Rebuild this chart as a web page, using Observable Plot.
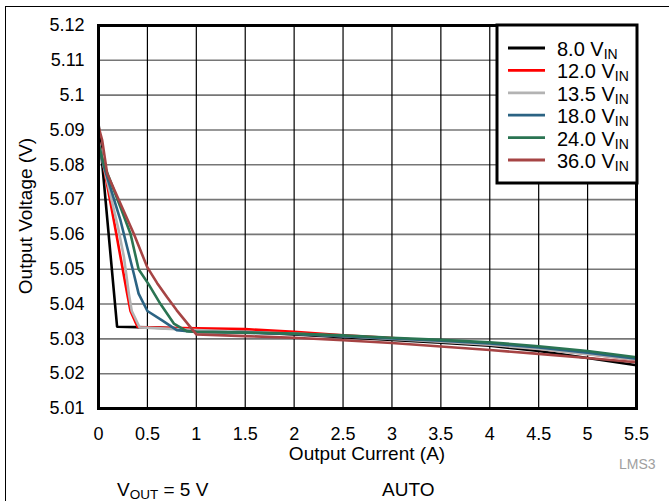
<!DOCTYPE html>
<html><head><meta charset="utf-8">
<script src="https://cdn.jsdelivr.net/npm/d3@7"></script>
<script src="https://cdn.jsdelivr.net/npm/@observablehq/plot@0.6"></script>
<style>
body{margin:0;background:#fff;}
#wrap{position:relative;width:669px;height:501px;overflow:hidden;font-family:"Liberation Sans",Arial,sans-serif;}
#frame{position:absolute;left:5px;top:6px;width:700px;height:600px;border-top:1.5px solid #000;border-left:1.5px solid #000;box-sizing:border-box;}
#wrap svg{position:absolute;left:0;top:0;}
</style></head><body><div id="wrap"><div id="frame"></div></div>
<script>
const seriesNames = ["8.0", "12.0", "13.5", "18.0", "24.0", "36.0"];
const seriesColors = ["#000000", "#ff0000", "#b3b3b3", "#2b6383", "#2a7452", "#a64444"];

const current8 = [0, 0.19, 0.5, 1, 1.5, 2, 2.5, 3, 3.5, 4, 4.5, 5, 5.5];
const voltage8 = [5.092, 5.0335, 5.0333, 5.0328, 5.032, 5.0313, 5.0305, 5.0297, 5.0289, 5.028, 5.0265, 5.0245, 5.0224];

const current12 = [0, 0.05, 0.157, 0.225, 0.293, 0.327, 0.4, 0.7, 1, 1.5, 2, 2.5, 3, 3.5, 4, 4.5, 5, 5.5];
const voltage12 = [5.087, 5.08, 5.064, 5.0535, 5.043, 5.038, 5.0334, 5.0332, 5.033, 5.0328, 5.032, 5.031, 5.0302, 5.0293, 5.0284, 5.0272, 5.0257, 5.024];

const current13 = [0, 0.05, 0.2, 0.26, 0.31, 0.34, 0.42, 1, 1.5, 2, 2.5, 3, 3.5, 4, 4.5, 5, 5.5];
const voltage13 = [5.087, 5.08, 5.062, 5.0535, 5.043, 5.038, 5.0333, 5.0325, 5.032, 5.0315, 5.0308, 5.03, 5.0292, 5.0283, 5.0271, 5.0256, 5.024];

const current18 = [0, 0.05, 0.225, 0.293, 0.361, 0.41, 0.5, 0.65, 0.8, 1, 1.5, 2, 2.5, 3, 3.5, 4, 4.5, 5, 5.5];
const voltage18 = [5.086, 5.08, 5.064, 5.0563, 5.0487, 5.043, 5.038, 5.0353, 5.0325, 5.032, 5.0318, 5.0314, 5.0308, 5.0301, 5.0295, 5.0287, 5.0275, 5.026, 5.0243];

const current24 = [0, 0.05, 0.225, 0.327, 0.41, 0.51, 0.634, 0.77, 0.9, 1, 1.5, 2, 2.5, 3, 3.5, 4, 4.5, 5, 5.5];
const voltage24 = [5.086, 5.0805, 5.0678, 5.0602, 5.05, 5.0458, 5.04, 5.0344, 5.0322, 5.032, 5.0318, 5.0315, 5.031, 5.0303, 5.0297, 5.029, 5.0279, 5.0265, 5.0247];

const current36 = [0, 0.038, 0.089, 0.225, 0.361, 0.498, 0.6, 0.7, 0.8, 1, 1.5, 2, 2.5, 3, 3.5, 4, 4.5, 5, 5.5];
const voltage36 = [5.091, 5.087, 5.0774, 5.0688, 5.0602, 5.0506, 5.046, 5.042, 5.0382, 5.0313, 5.0308, 5.0303, 5.0296, 5.0288, 5.0278, 5.0268, 5.0257, 5.0245, 5.0233];

const xTicks = [0, 0.5, 1, 1.5, 2, 2.5, 3, 3.5, 4, 4.5, 5, 5.5];
const xTickLabels = ["0", "0.5", "1", "1.5", "2", "2.5", "3", "3.5", "4", "4.5", "5", "5.5"];
const yTicks = [5.01, 5.02, 5.03, 5.04, 5.05, 5.06, 5.07, 5.08, 5.09, 5.1, 5.11, 5.12];
const yTickLabels = ["5.01", "5.02", "5.03", "5.04", "5.05", "5.06", "5.07", "5.08", "5.09", "5.1", "5.11", "5.12"];

const xLabel = "Output Current (A)";
const yLabel = "Output Voltage (V)";

const allCurrents = [current8, current12, current13, current18, current24, current36];
const allVoltages = [voltage8, voltage12, voltage13, voltage18, voltage24, voltage36];
const rows = [];
seriesNames.forEach((s, k) => {
  allCurrents[k].forEach((c, i) => rows.push({series: s, current: c, voltage: allVoltages[k][i]}));
});

const font = "Liberation Sans, Arial, Helvetica, sans-serif";
const plot = Plot.plot({
  width: 669, height: 501,
  marginLeft: 98, marginRight: 33, marginTop: 25, marginBottom: 93,
  x: {domain: [0, 5.5]},
  y: {domain: [5.01, 5.12]},
  color: {domain: seriesNames, range: seriesColors},
  style: {fontFamily: font, fontSize: "18px", color: "#000", background: "transparent", overflow: "visible"},
  marks: [
    Plot.ruleY(yTicks, {stroke: "#767676", strokeWidth: 1.6}),
    Plot.ruleX(xTicks, {stroke: "#000", strokeWidth: 1.2}),
    Plot.line(rows, {x: "current", y: "voltage", z: "series", stroke: "series", strokeWidth: 2.6, strokeLinejoin: "round"}),
    Plot.frame({stroke: "#000", strokeWidth: 3}),
    Plot.axisX(xTicks, {tickSize: 0, tickPadding: 19, label: null, fontSize: 18, tickFormat: d => xTickLabels[xTicks.indexOf(d)]}),
    Plot.axisY(yTicks, {tickSize: 0, tickPadding: 14, label: null, fontSize: 18, tickFormat: d => yTickLabels[yTicks.indexOf(d)]})
  ]
});
document.getElementById("wrap").appendChild(plot);

const svg = d3.select(plot);
// axis titles
svg.append("text").attr("x", 367).attr("y", 459.5).attr("text-anchor", "middle")
  .attr("font-family", font).attr("font-size", 19).text(xLabel);
svg.append("text").attr("transform", "translate(31.5,216) rotate(-90)").attr("text-anchor", "middle")
  .attr("font-family", font).attr("font-size", 19).text(yLabel);

// legend
const lg = svg.append("g").attr("text-anchor", "start");
lg.append("rect").attr("x", 497).attr("y", 25).attr("width", 140).attr("height", 158)
  .attr("fill", "#fff").attr("stroke", "#000").attr("stroke-width", 3);
seriesNames.forEach((s, i) => {
  const y = 48 + i * 22.4;
  lg.append("line").attr("x1", 508).attr("x2", 545).attr("y1", y).attr("y2", y)
    .attr("stroke", seriesColors[i]).attr("stroke-width", 2.8);
  const t = lg.append("text").attr("x", 557).attr("y", y + 8).attr("font-family", font).attr("font-size", 20);
  t.append("tspan").text(s + " V");
  t.append("tspan").attr("dy", 3).attr("font-size", 14).text("IN");
});

// bottom notes
const notes = svg.append("g").attr("text-anchor", "start").attr("font-family", font);
const n1 = notes.append("text").attr("x", 117).attr("y", 496).attr("font-size", 19);
n1.append("tspan").text("V");
n1.append("tspan").attr("dy", 3).attr("font-size", 13.5).text("OUT");
n1.append("tspan").attr("dy", -3).text(" = 5 V");
notes.append("text").attr("x", 382).attr("y", 496).attr("font-size", 19).text("AUTO");
notes.append("text").attr("x", 619).attr("y", 469).attr("font-size", 14).attr("fill", "#a0a0a0").text("LMS3");
</script></body></html>
